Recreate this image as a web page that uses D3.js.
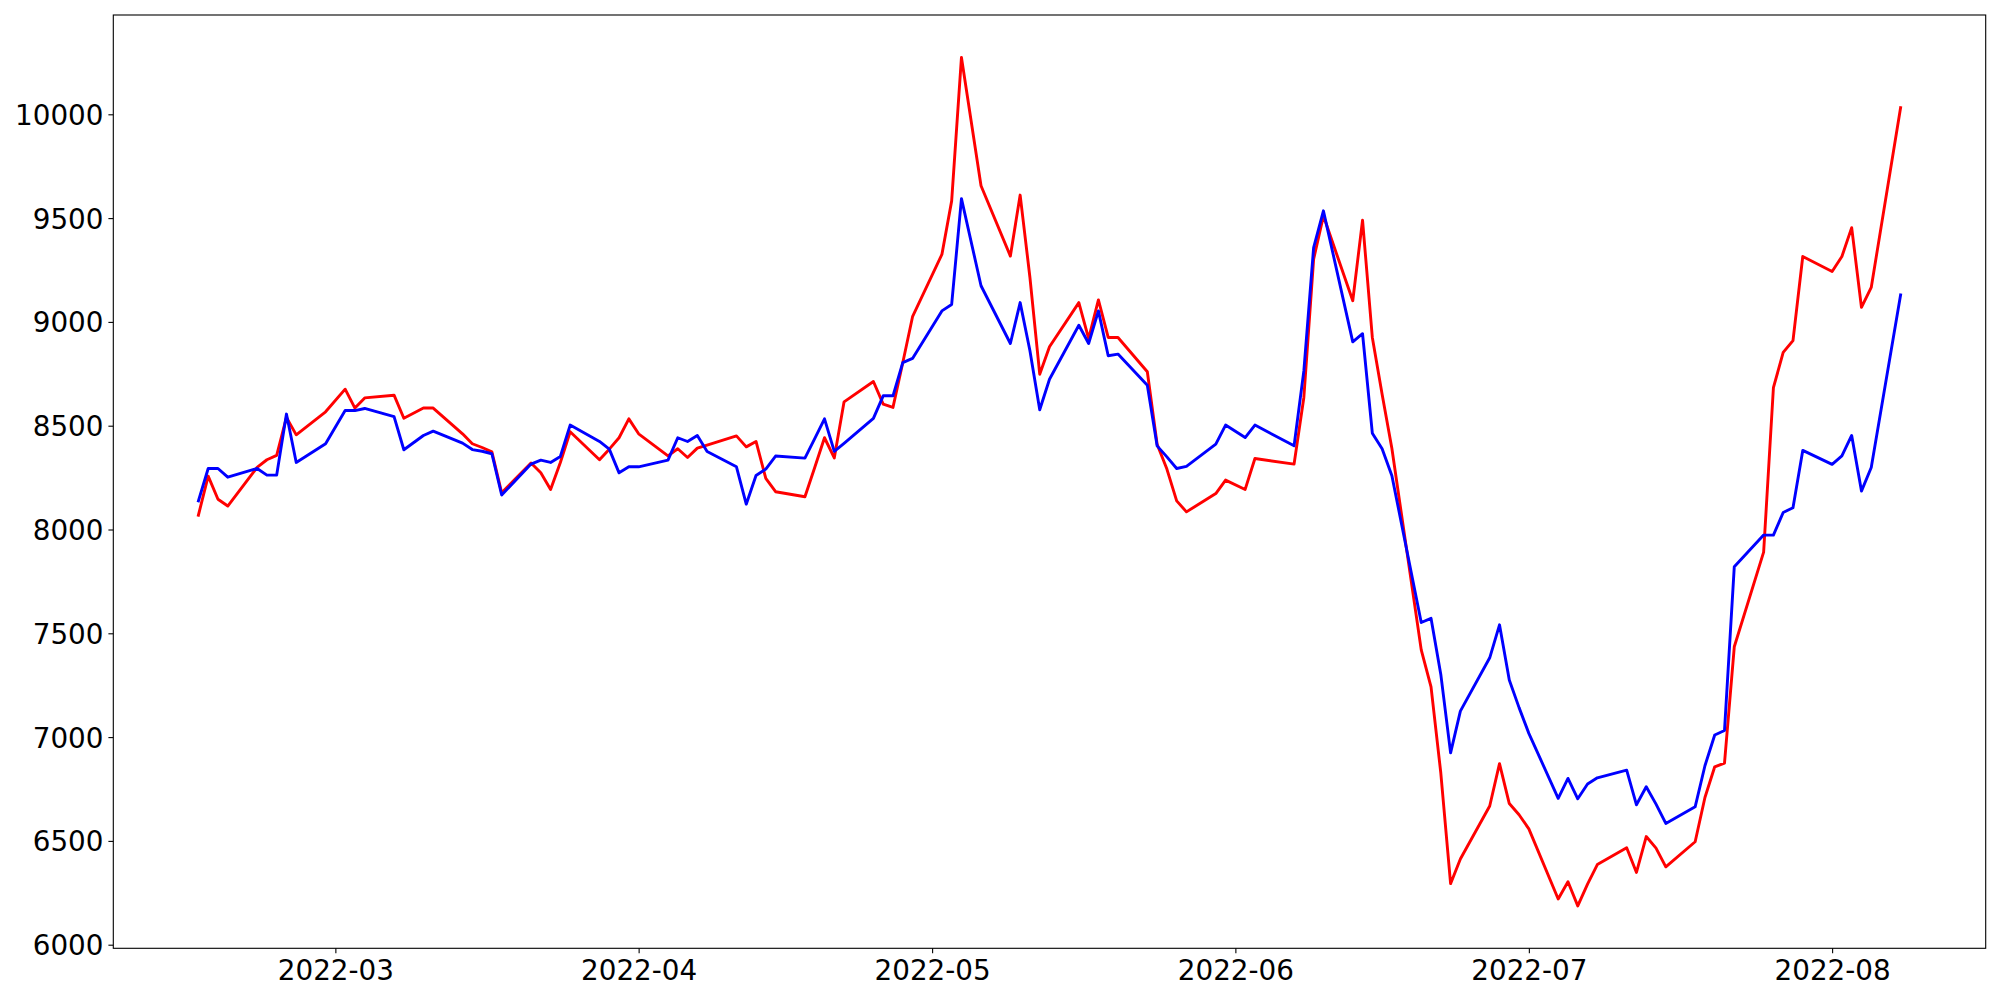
<!DOCTYPE html>
<html>
<head>
<meta charset="utf-8">
<script src="https://cdn.jsdelivr.net/npm/d3@7"></script>
<style>
    body { margin: 0; background: #fff; }
    #chart-area { width: 2000px; height: 1000px; }
    .axis text { font-family: "DejaVu Sans", sans-serif; font-size: 27.8px; fill: #000; }
    .axis line { stroke: #000; stroke-width: 1.1px; }
</style>
</head>
<body>
<div id="chart-area"></div>
<script>

// trading days (KRX calendar, Mar 1 / Mar 9 / May 5 / Jun 1 / Jun 6 closed)
let dates = [
    "2022-02-15", "2022-02-16", "2022-02-17", "2022-02-18", "2022-02-21", "2022-02-22", "2022-02-23", "2022-02-24", "2022-02-25", "2022-02-28",
    "2022-03-02", "2022-03-03", "2022-03-04", "2022-03-07", "2022-03-08", "2022-03-10", "2022-03-11", "2022-03-14", "2022-03-15", "2022-03-16",
    "2022-03-17", "2022-03-18", "2022-03-21", "2022-03-22", "2022-03-23", "2022-03-24", "2022-03-25", "2022-03-28", "2022-03-29", "2022-03-30", "2022-03-31",
    "2022-04-01", "2022-04-04", "2022-04-05", "2022-04-06", "2022-04-07", "2022-04-08", "2022-04-11", "2022-04-12", "2022-04-13", "2022-04-14",
    "2022-04-15", "2022-04-18", "2022-04-19", "2022-04-20", "2022-04-21", "2022-04-22", "2022-04-25", "2022-04-26", "2022-04-27", "2022-04-28", "2022-04-29",
    "2022-05-02", "2022-05-03", "2022-05-04", "2022-05-06", "2022-05-09", "2022-05-10", "2022-05-11", "2022-05-12", "2022-05-13", "2022-05-16",
    "2022-05-17", "2022-05-18", "2022-05-19", "2022-05-20", "2022-05-23", "2022-05-24", "2022-05-25", "2022-05-26", "2022-05-27", "2022-05-30", "2022-05-31",
    "2022-06-02", "2022-06-03", "2022-06-07", "2022-06-08", "2022-06-09", "2022-06-10", "2022-06-13", "2022-06-14", "2022-06-15", "2022-06-16",
    "2022-06-17", "2022-06-20", "2022-06-21", "2022-06-22", "2022-06-23", "2022-06-24", "2022-06-27", "2022-06-28", "2022-06-29", "2022-06-30",
    "2022-07-01", "2022-07-04", "2022-07-05", "2022-07-06", "2022-07-07", "2022-07-08", "2022-07-11", "2022-07-12", "2022-07-13", "2022-07-14",
    "2022-07-15", "2022-07-18", "2022-07-19", "2022-07-20", "2022-07-21", "2022-07-22", "2022-07-25", "2022-07-26", "2022-07-27", "2022-07-28", "2022-07-29",
    "2022-08-01", "2022-08-02", "2022-08-03", "2022-08-04", "2022-08-05", "2022-08-08"
];

let redValues = [
    8069, 8257, 8146, 8113, 8299, 8336, 8357, 8540, 8456, 8567,
    8676, 8585, 8634, 8647, 8536, 8585, 8585, 8461, 8413, 8395,
    8374, 8177, 8320, 8273, 8193, 8323, 8471, 8336, 8387, 8442, 8533,
    8461, 8355, 8389, 8347, 8392, 8407, 8451, 8398, 8424, 8246,
    8182, 8158, 8299, 8442, 8345, 8615, 8713, 8604, 8588, 8803, 9025,
    9325, 9583, 10274, 9656, 9317, 9611, 9214, 8748, 8880, 9093,
    8920, 9106, 8925, 8925, 8760, 8411, 8291, 8138, 8085, 8173, 8238,
    8193, 8342, 8315, 8636, 9302, 9511, 9102, 9490, 8925, 8652,
    8390, 7420, 7242, 6827, 6294, 6413, 6668, 6872, 6680, 6626,
    6558, 6220, 6303, 6187, 6292, 6386, 6467, 6348, 6521, 6465,
    6375, 6496, 6709, 6857, 6875, 7435, 7891, 8683, 8853, 8910, 9315,
    9243, 9315, 9454, 9070, 9166, 10032
];

let blueValues = [
    8138, 8294, 8294, 8252, 8294, 8262, 8262, 8556, 8323, 8413,
    8573, 8573, 8583, 8544, 8384, 8453, 8474, 8416, 8385, 8377,
    8365, 8166, 8315, 8334, 8323, 8352, 8503, 8424, 8387, 8273, 8302,
    8302, 8334, 8442, 8424, 8453, 8376, 8302, 8122, 8260, 8291,
    8354, 8344, 8438, 8533, 8376, 8415, 8535, 8644, 8644, 8804, 8824,
    9053, 9084, 9594, 9174, 8896, 9093, 8861, 8577, 8724, 8984,
    8896, 9053, 8837, 8845, 8695, 8403, 8350, 8294, 8304, 8411, 8503,
    8443, 8503, 8403, 8764, 9358, 9535, 8904, 8943, 8464, 8389,
    8259, 7552, 7572, 7302, 6924, 7125, 7382, 7541, 7275, 7142,
    7018, 6705, 6801, 6703, 6774, 6804, 6841, 6674, 6761, 6677,
    6584, 6664, 6862, 7010, 7032, 7821, 7973, 7973, 8082, 8105, 8381,
    8314, 8355, 8453, 8185, 8299, 9130
];

let seriesColors = ["red", "blue"];

let yTicks = [6000, 6500, 7000, 7500, 8000, 8500, 9000, 9500, 10000];
let xTicks = ["2022-03-01", "2022-04-01", "2022-05-01", "2022-06-01", "2022-07-01", "2022-08-01"];


class PriceLines {

    constructor(parentElement) {
        this.parentElement = parentElement;
        this.displayData = [];
        this.initVis();
    }

    initVis() {
        let vis = this;

        vis.margin = {top: 15, right: 14.3, bottom: 51.7, left: 113.3};
        vis.width = 2000 - vis.margin.left - vis.margin.right;
        vis.height = 1000 - vis.margin.top - vis.margin.bottom;

        vis.svg = d3.select("#" + vis.parentElement).append("svg")
            .attr("width", 2000)
            .attr("height", 1000)
            .append("g")
            .attr("transform", `translate(${vis.margin.left},${vis.margin.top})`);

        vis.x = d3.scaleTime().range([0, vis.width]);
        vis.y = d3.scaleLinear().range([vis.height, 0]);

        vis.parseDate = d3.timeParse("%Y-%m-%d");

        vis.line = d3.line()
            .x(d => vis.x(d.date))
            .y(d => vis.y(d.value));

        vis.wrangleData();
    }

    wrangleData() {
        let vis = this;

        vis.displayData = [redValues, blueValues].map((vals, i) => ({
            color: seriesColors[i],
            values: vals.map((v, j) => ({date: vis.parseDate(dates[j]), value: v}))
        }));

        vis.updateVis();
    }

    updateVis() {
        let vis = this;

        // matplotlib style 5% padding
        let allValues = redValues.concat(blueValues);
        let yMin = d3.min(allValues), yMax = d3.max(allValues);
        let yPad = (yMax - yMin) * 0.05;
        vis.y.domain([yMin - yPad, yMax + yPad]);

        let dExt = d3.extent(dates, d => vis.parseDate(d));
        let dPad = (dExt[1] - dExt[0]) * 0.05;
        vis.x.domain([new Date(+dExt[0] - dPad), new Date(+dExt[1] + dPad)]);

        vis.svg.selectAll(".series")
            .data(vis.displayData)
            .enter().append("path")
            .attr("class", "series")
            .attr("d", d => vis.line(d.values))
            .attr("fill", "none")
            .attr("stroke", d => d.color)
            .attr("stroke-width", 2.9)
            .attr("stroke-linejoin", "round")
            .attr("stroke-linecap", "square");

        let xAxis = d3.axisBottom(vis.x)
            .tickValues(xTicks.map(vis.parseDate))
            .tickFormat(d3.timeFormat("%Y-%m"))
            .tickSize(4.9)
            .tickSizeOuter(0)
            .tickPadding(4.9);

        let yAxis = d3.axisLeft(vis.y)
            .tickValues(yTicks)
            .tickFormat(d3.format("d"))
            .tickSize(4.9)
            .tickSizeOuter(0)
            .tickPadding(4.9);

        vis.svg.append("g")
            .attr("class", "axis x-axis")
            .attr("transform", `translate(0,${vis.height})`)
            .call(xAxis)
            .call(g => g.select(".domain").remove())
            .selectAll("text").attr("dy", "0.79em");

        vis.svg.append("g")
            .attr("class", "axis y-axis")
            .call(yAxis)
            .call(g => g.select(".domain").remove())
            .selectAll("text").attr("dy", "0.36em");

        // frame
        vis.svg.append("rect")
            .attr("width", vis.width)
            .attr("height", vis.height)
            .attr("fill", "none")
            .attr("stroke", "#000")
            .attr("stroke-width", 1.1);
    }
}

new PriceLines("chart-area");

</script>
</body>
</html>
